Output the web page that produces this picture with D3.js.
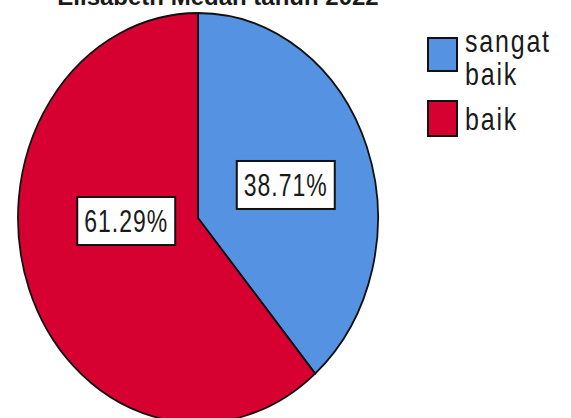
<!DOCTYPE html>
<html>
<head>
<meta charset="utf-8">
<script src="https://d3js.org/d3.v7.min.js"></script>
<style>
    body {
        margin: 0;
        background-color: #ffffff;
    }
    svg text {
        font-family: "Liberation Sans", Arial, sans-serif;
        fill: #1a1a1a;
    }
</style>
</head>
<body>
<svg width="571" height="418"></svg>
<script>

    // data
    var categories = ["sangat baik", "baik"];
    var percents = [38.71, 61.29];
    var legendLines = [["sangat", "baik"], ["baik"]];
    var colors = ["#5593e2", "#d60031"];
    var title = "Elisabeth Medan tahun 2022";

    var svg = d3.select("svg"),
        cx = 198, cy = 218,
        rx = 180, ry = 205;

    // the tool that made the picture pulled the big slice's label up a bit
    var labelNudge = [[0, 4], [16, -34]];

    // title, only its lower part shows in the picture
    svg.append("text")
        .attr("x", 218)
        .attr("y", 5)
        .attr("text-anchor", "middle")
        .style("font-size", "24px")
        .style("font-weight", "bold")
        .text(title);

    var pie = d3.pie().sort(null).value(function (d) { return d; });
    var arcs = pie(percents);

    // unit arc, stretched to the ellipse by the group transform
    var arc = d3.arc().innerRadius(0).outerRadius(1);
    var labelArc = d3.arc().innerRadius(0).outerRadius(1.04);

    var g = svg.append("g")
        .attr("transform", "translate(" + cx + "," + cy + ") scale(" + rx + "," + ry + ")");

    g.selectAll("path")
        .data(arcs)
        .enter().append("path")
        .attr("d", arc)
        .attr("fill", function (d, i) { return colors[i]; })
        .attr("stroke", "#111")
        .attr("stroke-width", 1.8)
        .attr("vector-effect", "non-scaling-stroke");

    // boxed percent labels
    var labels = svg.selectAll(".lbl")
        .data(arcs)
        .enter().append("g")
        .attr("class", "lbl")
        .attr("transform", function (d, i) {
            var c = labelArc.centroid(d);
            return "translate(" + (cx + c[0] * rx + labelNudge[i][0]) + "," + (cy + c[1] * ry + labelNudge[i][1]) + ")";
        });

    labels.append("rect");
    labels.append("text")
        .attr("text-anchor", "middle")
        .attr("transform", "scale(1,1.35)")
        .attr("y", 8)
        .style("font-size", "23px")
        .style("letter-spacing", "1px")
        .text(function (d) { return d.data.toFixed(2) + "%"; });

    labels.each(function () {
        var t = d3.select(this).select("text").node().getBBox();
        var w = t.width + 14, h = 48;
        d3.select(this).select("rect")
            .attr("x", -w / 2)
            .attr("y", -h / 2)
            .attr("width", w)
            .attr("height", h)
            .attr("fill", "#fff")
            .attr("stroke", "#111")
            .attr("stroke-width", 2);
    });

    // legend
    var legend = svg.selectAll(".leg")
        .data(categories)
        .enter().append("g")
        .attr("class", "leg")
        .attr("transform", function (d, i) { return "translate(428," + (i === 0 ? 38 : 101) + ")"; });

    legend.append("rect")
        .attr("width", 29)
        .attr("height", function (d, i) { return i === 0 ? 33 : 35; })
        .attr("fill", function (d, i) { return colors[i]; })
        .attr("stroke", "#111")
        .attr("stroke-width", 2);

    legend.each(function (d, i) {
        var lines = legendLines[i];
        var t = d3.select(this).append("text")
            .attr("transform", "scale(1,1.28)")
            .style("font-size", "25px")
            .style("letter-spacing", "1.8px");
        lines.forEach(function (s, j) {
            // baselines: first line near box top, next one 33px lower
            var base = (i === 0 ? 14 : 29) + j * 33;
            t.append("tspan")
                .attr("x", 37)
                .attr("y", base / 1.28)
                .text(s);
        });
    });
</script>
</body>
</html>
